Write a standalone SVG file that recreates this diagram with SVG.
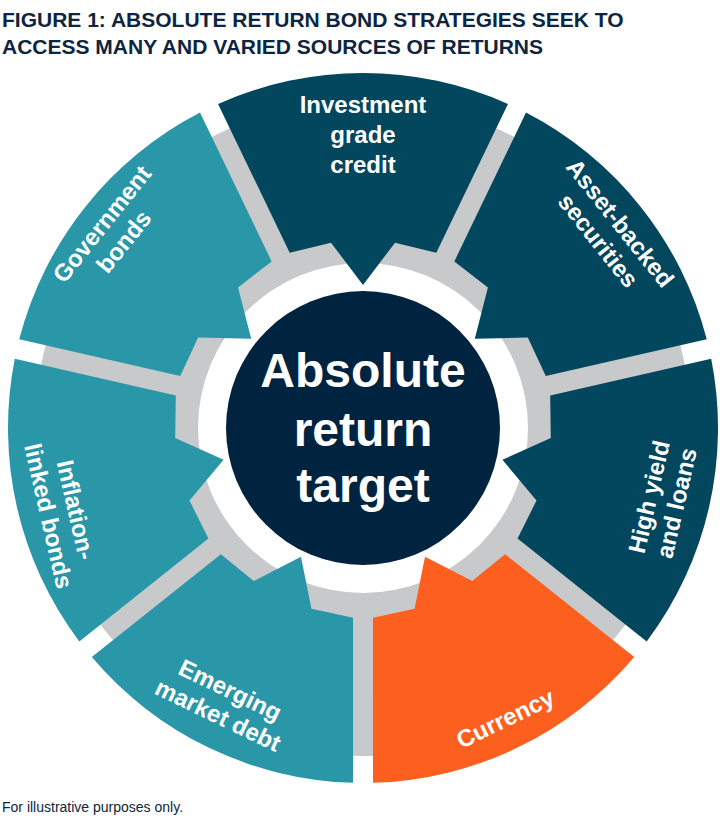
<svg xmlns="http://www.w3.org/2000/svg" width="720" height="820" viewBox="0 0 720 820">
<style>
.t{font-family:"Liberation Sans",Arial,sans-serif;font-weight:bold;fill:#0d2540}
.l{font-family:"Liberation Sans",Arial,sans-serif;font-weight:bold;font-size:24px;fill:#fff;text-anchor:middle}
.dark{fill:#02475e}.light{fill:#2a97a9}.orange{fill:#fc5f1e}
</style>
<defs>
<path id="seg" d="M -144.96,-324.07 A 355 355 0 0 1 144.96,-324.07 L 73.32,-175.29 L 32,-185.3 L 0,-143 L -32,-185.3 L -73.32,-175.29 Z"/>
</defs>
<text class="t" x="2" y="27" font-size="21">FIGURE 1: ABSOLUTE RETURN BOND STRATEGIES SEEK TO</text>
<text class="t" x="2" y="54" font-size="21">ACCESS MANY AND VARIED SOURCES OF RETURNS</text>
<g id="ring">
<circle cx="363" cy="428" r="328" fill="#c8c9cb"/>
<circle cx="363" cy="428" r="165" fill="#fff"/>
</g>
<g id="investment"><use href="#seg" class="dark" transform="translate(363,428)"/>
<text class="l" x="363" y="113">Investment</text><text class="l" x="363" y="143">grade</text><text class="l" x="363" y="173">credit</text></g>
<g id="asset"><use href="#seg" class="dark" transform="translate(363,428) rotate(51.43)"/>
<g transform="translate(609,232) rotate(51.4)"><text class="l" x="0" y="-6">Asset-backed</text><text class="l" x="0" y="22">securities</text></g></g>
<g id="highyield"><use href="#seg" class="dark" transform="translate(363,428) rotate(102.86)"/>
<g transform="translate(663,500) rotate(-77.1)"><text class="l" x="0" y="-6">High yield</text><text class="l" x="0" y="22">and loans</text></g></g>
<g id="currency"><use href="#seg" class="orange" transform="translate(363,428) rotate(154.29)"/>
<g transform="translate(505,718) rotate(-25.7)"><text class="l" x="0" y="9">Currency</text></g></g>
<g id="emerging"><use href="#seg" class="light" transform="translate(363,428) rotate(205.71)"/>
<g transform="translate(224,703) rotate(25.7)"><text class="l" x="0" y="-6">Emerging</text><text class="l" x="0" y="22">market debt</text></g></g>
<g id="inflation"><use href="#seg" class="light" transform="translate(363,428) rotate(257.14)"/>
<g transform="translate(62,513) rotate(77.1)"><text class="l" x="0" y="-6">Inflation-</text><text class="l" x="0" y="22">linked bonds</text></g></g>
<g id="government"><use href="#seg" class="light" transform="translate(363,428) rotate(308.57)"/>
<g transform="translate(113,233) rotate(-51.4)"><text class="l" x="0" y="-6">Government</text><text class="l" x="0" y="22">bonds</text></g></g>
<g id="center"><circle cx="363" cy="428" r="137" fill="#00233f"/>
<text x="363" y="387" font-family="Liberation Sans,Arial,sans-serif" font-weight="bold" font-size="48" fill="#fff" text-anchor="middle">Absolute</text>
<text x="363" y="446" font-family="Liberation Sans,Arial,sans-serif" font-weight="bold" font-size="48" fill="#fff" text-anchor="middle">return</text>
<text x="363" y="502" font-family="Liberation Sans,Arial,sans-serif" font-weight="bold" font-size="48" fill="#fff" text-anchor="middle">target</text></g>
<text x="2" y="812" font-family="Liberation Sans,Arial,sans-serif" font-size="14" fill="#0d2540">For illustrative purposes only.</text>
</svg>
